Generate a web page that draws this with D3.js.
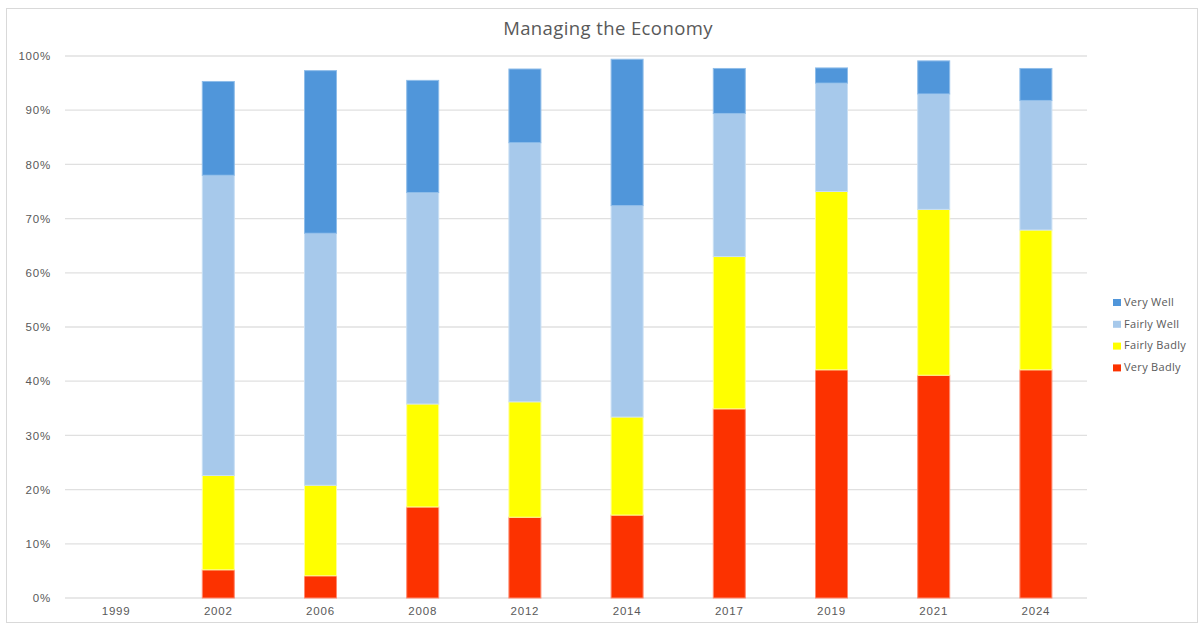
<!DOCTYPE html>
<html>
<head>
<meta charset="utf-8">
<script src="https://cdn.jsdelivr.net/npm/d3@7/dist/d3.min.js"></script>
<style>
  html, body { margin: 0; padding: 0; background: #fff; }
  svg { display: block; font-family: "Open Sans", "Noto Sans", sans-serif; }
</style>
</head>
<body>
<svg id="chart" width="1203" height="626"></svg>
<script>
// Survey years (1999 has no responses recorded)
const years = ["1999", "2002", "2006", "2008", "2012", "2014", "2017", "2019", "2021", "2024"];

// Share of respondents (%) per answer, stacked bottom to top
const veryBadly   = [null, 5.2, 4.1, 16.8, 14.9, 15.3, 34.9, 42.1, 41.1, 42.1];
const fairlyBadly = [null, 17.4, 16.7, 19.0, 21.3, 18.1, 28.1, 32.9, 30.6, 25.8];
const fairlyWell  = [null, 55.4, 46.5, 39.0, 47.8, 39.0, 26.4, 20.0, 21.3, 23.9];
const veryWell    = [null, 17.3, 30.0, 20.7, 13.6, 27.0, 8.3, 2.8, 6.1, 5.9];

const seriesNames = ["Very Badly", "Fairly Badly", "Fairly Well", "Very Well"];
const seriesColors = ["#FC3200", "#FFFF00", "#A7C9EB", "#5096DA"];
const seriesEdges  = ["#FF8A70", "#FFFF99", "#C9DFF4", "#8FBDE9"];
const yTicks = [0, 10, 20, 30, 40, 50, 60, 70, 80, 90, 100];

const rows = years.map((y, i) => ({
  year: y,
  "Very Badly": veryBadly[i] || 0,
  "Fairly Badly": fairlyBadly[i] || 0,
  "Fairly Well": fairlyWell[i] || 0,
  "Very Well": veryWell[i] || 0
}));

const svg = d3.select("#chart");
const margin = { left: 65, right: 1087, top: 56, bottom: 598 };

// Outer chart frame
svg.append("rect")
  .attr("x", 6.5).attr("y", 8.5)
  .attr("width", 1191).attr("height", 614)
  .attr("fill", "#fff").attr("stroke", "#D9D9D9").attr("stroke-width", 1);

const x = d3.scaleBand().domain(years).range([margin.left, margin.right]).padding(0);
const y = d3.scaleLinear().domain([0, 100]).range([margin.bottom, margin.top]);
const barW = 32;

// Horizontal gridlines
svg.append("g")
  .selectAll("line")
  .data(yTicks)
  .join("line")
  .attr("x1", margin.left).attr("x2", margin.right)
  .attr("y1", d => y(d)).attr("y2", d => y(d))
  .attr("stroke", "#E0E0E0").attr("stroke-width", 1.3);

// Y axis labels
const yAxis = d3.axisLeft(y).tickValues(yTicks).tickFormat(d => d + "%").tickSize(0).tickPadding(14);
const gy = svg.append("g").attr("transform", `translate(${margin.left},0)`).call(yAxis);
gy.select(".domain").remove();
gy.selectAll("text")
  .attr("fill", "#595959").attr("font-size", 11.5).style("letter-spacing", "0.8px");

// X axis labels
const xAxis = d3.axisBottom(x).tickSize(0).tickPadding(9);
const gx = svg.append("g").attr("transform", `translate(0,${margin.bottom})`).call(xAxis);
gx.select(".domain").remove();
gx.selectAll("text")
  .attr("fill", "#595959").attr("font-size", 11.5).style("letter-spacing", "0.8px");

// Stacked bars
const stack = d3.stack().keys(seriesNames);
const layers = stack(rows);

svg.append("g")
  .selectAll("g")
  .data(layers)
  .join("g")
  .attr("fill", (d, i) => seriesColors[i])
  .attr("stroke", (d, i) => seriesEdges[i])
  .attr("stroke-width", 1)
  .selectAll("rect")
  .data(d => d.filter(p => p[1] - p[0] > 0))
  .join("rect")
  .attr("x", d => x(d.data.year) + x.bandwidth() / 2 - barW / 2)
  .attr("width", barW)
  .attr("y", d => y(d[1]))
  .attr("height", d => y(d[0]) - y(d[1]));

// Title
svg.append("text")
  .attr("x", 608).attr("y", 35)
  .attr("text-anchor", "middle")
  .attr("fill", "#595959")
  .attr("font-size", 18.5)
  .attr("font-weight", 500)
  .style("letter-spacing", "0.4px")
  .text("Managing the Economy");

// Legend (top entry is the top of the stack)
const legendOrder = seriesNames.map((n, i) => ({ name: n, color: seriesColors[i] })).reverse();
const legend = svg.append("g").attr("transform", "translate(1113,302)");
const item = legend.selectAll("g")
  .data(legendOrder)
  .join("g")
  .attr("transform", (d, i) => `translate(0,${i * 21.8})`);
item.append("rect")
  .attr("x", 0).attr("y", -3)
  .attr("width", 8).attr("height", 7)
  .attr("fill", d => d.color);
item.append("text")
  .attr("x", 11).attr("y", 0)
  .attr("dy", "0.35em")
  .attr("fill", "#595959")
  .attr("font-size", 11)
  .style("letter-spacing", "0.3px")
  .text(d => d.name);
</script>
</body>
</html>
